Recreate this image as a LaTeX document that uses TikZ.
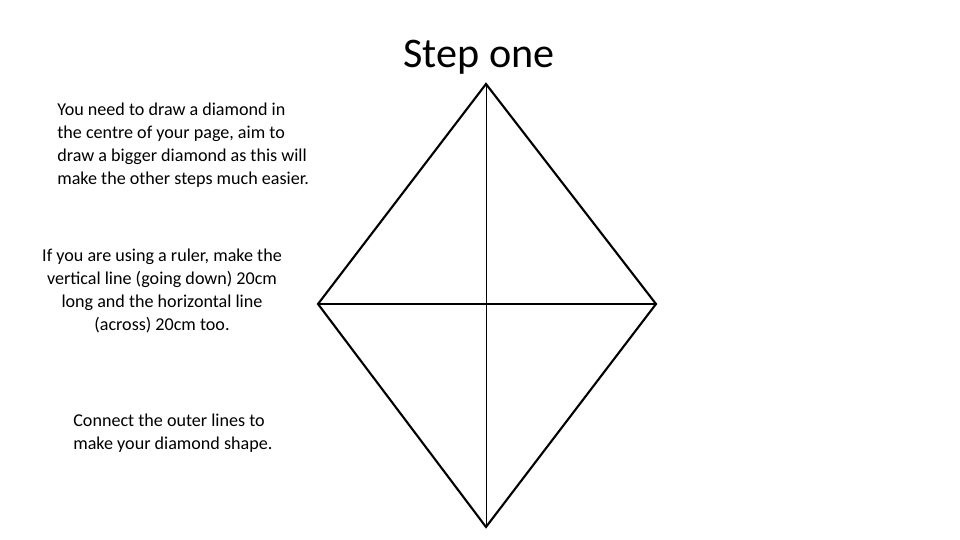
\documentclass[tikz,border=0pt]{standalone}
\usepackage{fontspec}
\setmainfont{Carlito}
\tikzset{note/.style={inner sep=0pt,font=\fontsize{10.3}{13}\selectfont}}
\tikzset{edge/.style={line width=1.2pt}}
\begin{document}
\begin{tikzpicture}[x=0.02cm,y=-0.02cm]
        \useasboundingbox (0,0) rectangle (960,540);
        \coordinate (T) at (486,84);
        \coordinate (L) at (318,304);
        \coordinate (R) at (656,304);
        \coordinate (B) at (486,527);
        \node (title) at (479,57) {\fontsize{24}{28}\selectfont Step one};
        \draw[edge,line join=miter] (T) -- (R) -- (B) -- (L) -- cycle;
        \draw[line width=0.45pt] (T) -- (B);
        \draw[edge] (L) -- (R);
        \node[note,anchor=west,align=left] (first) at (57,145) {You need to draw a diamond in\\the centre of your page, aim to\\draw a bigger diamond as this will\\make the other steps much easier.};
        \node[note,align=center] (second) at (162,291) {If you are using a ruler, make the\\vertical line (going down) 20cm\\long and the horizontal line\\(across) 20cm too.};
        \node[note,anchor=west,align=left] (third) at (73,433) {Connect the outer lines to\\make your diamond shape.};
    \end{tikzpicture}
\end{document}
